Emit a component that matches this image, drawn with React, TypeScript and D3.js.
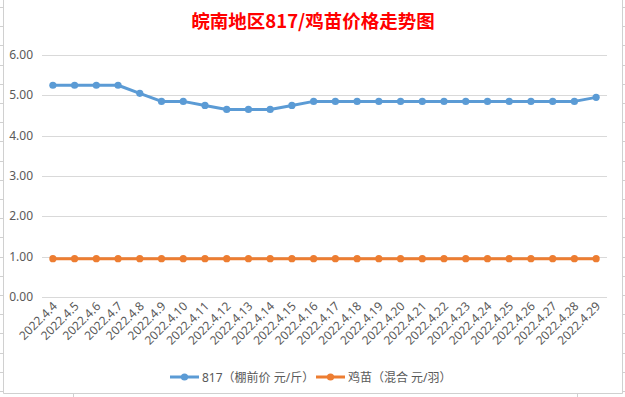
import React, { useEffect, useRef } from "react";
import * as d3 from "d3";

// dates on the x axis
const dates = [
  "2022.4.4", "2022.4.5", "2022.4.6", "2022.4.7", "2022.4.8", "2022.4.9",
  "2022.4.10", "2022.4.11", "2022.4.12", "2022.4.13", "2022.4.14", "2022.4.15",
  "2022.4.16", "2022.4.17", "2022.4.18", "2022.4.19", "2022.4.20", "2022.4.21",
  "2022.4.22", "2022.4.23", "2022.4.24", "2022.4.25", "2022.4.26", "2022.4.27",
  "2022.4.28", "2022.4.29",
];

// 817 price (元/斤)
const price817 = [
  5.25, 5.25, 5.25, 5.25, 5.05, 4.85, 4.85, 4.75, 4.65, 4.65, 4.65, 4.75,
  4.85, 4.85, 4.85, 4.85, 4.85, 4.85, 4.85, 4.85, 4.85, 4.85, 4.85, 4.85,
  4.85, 4.95,
];

// chick price (元/羽)
const chickPrice = [
  0.95, 0.95, 0.95, 0.95, 0.95, 0.95, 0.95, 0.95, 0.95, 0.95, 0.95, 0.95,
  0.95, 0.95, 0.95, 0.95, 0.95, 0.95, 0.95, 0.95, 0.95, 0.95, 0.95, 0.95,
  0.95, 0.95,
];

const yTicks = [0, 1, 2, 3, 4, 5, 6];

const seriesNames = ["817（棚前价 元/斤）", "鸡苗（混合 元/羽）"];
const title = "皖南地区817/鸡苗价格走势图";

function App() {
  const svgRef = useRef<SVGSVGElement>(null);

  useEffect(() => {
    const W = 625;
    const H = 397;
    const margin = { top: 55, right: 18, bottom: 100, left: 42 };
    const w = W - margin.left - margin.right;
    const h = H - margin.top - margin.bottom;
    const textColor = "#595959";
    const font = "'Noto Sans', 'Noto Sans CJK SC', sans-serif";

    const svg = d3.select(svgRef.current)
      .attr("width", W)
      .attr("height", H);
    svg.selectAll("*").remove();

    svg.append("rect")
      .attr("width", W)
      .attr("height", H)
      .attr("fill", "#fff");

    // spreadsheet frame bits
    const frame = svg.append("g")
      .attr("stroke", "#d0d0d0")
      .attr("fill", "none");
    frame.append("line").attr("x1", 3.5).attr("x2", 3.5).attr("y1", 0).attr("y2", 393.5);
    frame.append("line").attr("x1", 622.5).attr("x2", 622.5).attr("y1", 0).attr("y2", 393.5);
    frame.append("line").attr("x1", 3.5).attr("x2", 622.5).attr("y1", 393.5).attr("y2", 393.5);
    d3.range(7, 393, 19.2).forEach(y => {
      frame.append("line").attr("x1", 0).attr("x2", 3).attr("y1", Math.round(y) + 0.5).attr("y2", Math.round(y) + 0.5);
      frame.append("line").attr("x1", 623).attr("x2", 625).attr("y1", Math.round(y) + 0.5).attr("y2", Math.round(y) + 0.5);
    });
    [73.5, 577.5].forEach(x => {
      frame.append("line").attr("x1", x).attr("x2", x).attr("y1", 394).attr("y2", 397);
    });

    const g = svg.append("g")
      .attr("transform", `translate(${margin.left}, ${margin.top})`);

    const x_scale = d3.scaleBand()
      .domain(dates)
      .range([0, w]);

    const y_scale = d3.scaleLinear()
      .domain([0, 6])
      .range([h, 0]);

    const cx = (d: string) => (x_scale(d) || 0) + x_scale.bandwidth() / 2;

    // gridlines
    g.selectAll(".grid")
      .data(yTicks)
      .join("line")
      .attr("class", "grid")
      .attr("x1", 0)
      .attr("x2", w)
      .attr("y1", d => Math.round(y_scale(d)) + 0.5)
      .attr("y2", d => Math.round(y_scale(d)) + 0.5)
      .attr("stroke", "#d9d9d9")
      .attr("stroke-width", 1);

    // y labels
    g.selectAll(".ylab")
      .data(yTicks)
      .join("text")
      .attr("class", "ylab")
      .attr("x", -9)
      .attr("y", d => y_scale(d) + 4)
      .attr("text-anchor", "end")
      .style("font-family", font)
      .style("font-size", "12px")
      .attr("fill", textColor)
      .text(d => d.toFixed(2));

    // x labels, rotated
    g.selectAll(".xlab")
      .data(dates)
      .join("text")
      .attr("class", "xlab")
      .attr("transform", d => `translate(${cx(d) + 5}, ${h + 10}) rotate(-45)`)
      .attr("text-anchor", "end")
      .style("font-family", font)
      .style("font-size", "12px")
      .attr("fill", textColor)
      .text(d => d);

    const series = [
      { values: price817, color: "#5b9bd5" },
      { values: chickPrice, color: "#ed7d31" },
    ];

    const line = d3.line<number>()
      .x((_, i) => cx(dates[i]))
      .y(d => y_scale(d));

    series.forEach(s => {
      g.append("path")
        .datum(s.values)
        .attr("d", line)
        .attr("fill", "none")
        .attr("stroke", s.color)
        .attr("stroke-width", 3)
        .attr("stroke-linejoin", "round");

      g.selectAll(null)
        .data(s.values)
        .join("circle")
        .attr("cx", (_, i) => cx(dates[i]))
        .attr("cy", d => y_scale(d))
        .attr("r", 3.6)
        .attr("fill", s.color);
    });

    // title
    svg.append("text")
      .attr("x", 313)
      .attr("y", 28)
      .attr("text-anchor", "middle")
      .style("font-family", "'Noto Sans CJK SC', sans-serif")
      .style("font-size", "18.5px")
      .style("font-weight", "bold")
      .attr("fill", "#ff0000")
      .text(title);

    // legend
    const legendY = 377;
    const legendX = [170, 316];
    series.forEach((s, i) => {
      const lg = svg.append("g").attr("transform", `translate(${legendX[i]}, ${legendY})`);
      lg.append("line")
        .attr("x1", 0).attr("x2", 29)
        .attr("y1", 0).attr("y2", 0)
        .attr("stroke", s.color)
        .attr("stroke-width", 3);
      lg.append("circle")
        .attr("cx", 14.5).attr("cy", 0)
        .attr("r", 3.6)
        .attr("fill", s.color);
      lg.append("text")
        .attr("x", 32)
        .attr("y", 4.5)
        .style("font-family", font)
        .style("font-size", "12px")
        .attr("fill", textColor)
        .text(seriesNames[i]);
    });
  }, []);

  return <svg ref={svgRef} style={{ position: "absolute", left: 0, top: 0 }} />;
}

export default App;
